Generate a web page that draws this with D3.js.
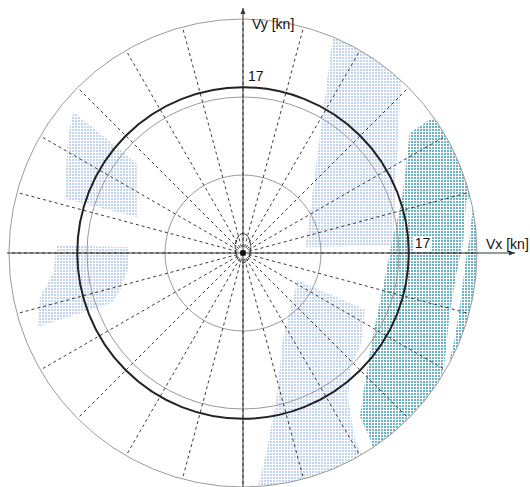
<!DOCTYPE html>
<html>
<head>
<meta charset="utf-8">
<script src="https://cdn.jsdelivr.net/npm/d3@7"></script>
<style>
  html, body { margin: 0; padding: 0; background: #fff; }
  svg { display: block; }
  text { font-family: "Liberation Sans", Arial, sans-serif; font-size: 14px; fill: #111; }
</style>
</head>
<body>
<svg id="chart" width="530" height="487"></svg>
<script>
// ---- data (knots) ----
const ringSpeeds = [8, 16, 24];          // grid rings
const ownSpeed = 17;                     // bold circle
const rayAngles = d3.range(0, 360, 15);  // radial dashed bearings (deg)
const speedLabels = ["17", "17"];
const axisLabels = ["Vx [kn]", "Vy [kn]"];

// light blue regions, vertices [Vx, Vy]
const regionUpperRight = [[9.5,24.4],[16.4,21.8],[16.2,17.7],[15.9,11.9],[15.4,0.8],[6.4,0.6]];
const regionLowerRight = [[5.6,-2.8],[12.5,-5.8],[12.1,-9.4],[11.0,-11.8],[10.8,-15.1],[11.5,-19.2],[13.0,-22.3],[1.2,-25.3],[2.5,-19.9],[3.5,-14.4],[4.1,-8.6]];
const regionUpperLeft = [[-17.4,14.5],[-10.9,9.2],[-10.9,3.7],[-18.3,5.6],[-18.1,9.5],[-17.9,12.3]];
const regionLowerLeft = [[-19.1,0.8],[-11.8,0.6],[-11.8,-1.7],[-12.6,-3.8],[-13.4,-5.1],[-21.1,-7.6],[-20.8,-4.5],[-19.5,-2.1]];
// teal regions
const tealMain = [[17.1,12.3],[19.0,13.6],[20.2,14.1],[25.3,10.6],[25.3,7.0],[22.9,5.4],[22.6,1.3],[21.9,-2.1],[21.2,-6.2],[20.7,-11.0],[20.3,-13.0],[19.2,-23.3],[13.8,-22.3],[13.0,-18.9],[12.0,-16.8],[12.5,-13.3],[13.3,-8.6],[14.3,-3.8],[15.3,1.3],[16.3,5.4]];
const tealSliver = [[23.6,4.9],[23.2,1.3],[22.8,-1.0],[22.3,-5.1],[21.7,-8.9],[21.2,-10.8],[24.3,-13.0],[26.4,0.3],[24.3,5.4]];
// own-ship ellipse (center and semi-axes, knots)
const ellipseCenter = [0, 0.5];
const ellipseRadii = [0.8, 1.5];

// ---- layout ----
const cx = 243, cy = 253, R = 234, maxSpeed = 24;
const svg = d3.select("#chart");
const x = d3.scaleLinear().domain([-maxSpeed, maxSpeed]).range([cx - R, cx + R]);
const y = d3.scaleLinear().domain([-maxSpeed, maxSpeed]).range([cy + R, cy - R]);
const r = d3.scaleLinear().domain([0, maxSpeed]).range([0, R]);

const defs = svg.append("defs");
function pattern(id, color) {
  const p = defs.append("pattern").attr("id", id)
    .attr("patternUnits", "userSpaceOnUse").attr("width", 3).attr("height", 3);
  p.append("rect").attr("width", 3).attr("height", 3).attr("fill", "#fff");
  p.append("rect").attr("width", 2).attr("height", 2).attr("fill", color)
    .attr("shape-rendering", "crispEdges");
}
pattern("pBlue", "#c3d4ee");
pattern("pTeal", "#6ab4c4");
defs.append("clipPath").attr("id", "clipOuter")
  .append("circle").attr("cx", x(0)).attr("cy", y(0)).attr("r", r(maxSpeed));

const line = d3.line().x(d => x(d[0])).y(d => y(d[1])).curve(d3.curveLinearClosed);
const regions = svg.append("g").attr("clip-path", "url(#clipOuter)");
[regionUpperRight, regionLowerRight, regionUpperLeft, regionLowerLeft].forEach(poly =>
  regions.append("path").attr("d", line(poly)).attr("fill", "url(#pBlue)"));
[tealMain, tealSliver].forEach(poly =>
  regions.append("path").attr("d", line(poly)).attr("fill", "url(#pTeal)"));

// rings
svg.append("g").selectAll("circle").data(ringSpeeds).join("circle")
  .attr("cx", x(0)).attr("cy", y(0)).attr("r", d => r(d))
  .attr("fill", "none").attr("stroke", "#9a9a9a").attr("stroke-width", 1);

// radial dashed rays
svg.append("g").selectAll("line").data(rayAngles).join("line")
  .attr("x1", x(0)).attr("y1", y(0))
  .attr("x2", d => x(maxSpeed * Math.cos(d * Math.PI / 180)))
  .attr("y2", d => y(maxSpeed * Math.sin(d * Math.PI / 180)))
  .attr("stroke", "#3a3a3a").attr("stroke-width", 1).attr("stroke-dasharray", "3,3");

// axes
const axisG = svg.append("g").attr("stroke", "#333").attr("stroke-width", 1);
axisG.append("line").attr("x1", 7).attr("y1", y(0)).attr("x2", 515).attr("y2", y(0));
axisG.append("line").attr("x1", x(0)).attr("y1", 487).attr("x2", x(0)).attr("y2", 8);
svg.append("path").attr("d", `M${515},${y(0)} l-6,-2.5 l0,5 Z`).attr("fill", "#333");
svg.append("path").attr("d", `M${x(0)},${8} l-2.5,6 l5,0 Z`).attr("fill", "#333");

// own speed circle
svg.append("circle").attr("cx", x(0)).attr("cy", y(0)).attr("r", r(ownSpeed))
  .attr("fill", "none").attr("stroke", "#222").attr("stroke-width", 2);

// ellipse and center
svg.append("ellipse").attr("cx", x(ellipseCenter[0])).attr("cy", y(ellipseCenter[1]))
  .attr("rx", r(ellipseRadii[0])).attr("ry", r(ellipseRadii[1]))
  .attr("fill", "none").attr("stroke", "#222").attr("stroke-width", 1).attr("stroke-dasharray", "4,1");
svg.append("rect").attr("x", x(0) - 2.5).attr("y", y(0) - 2.5).attr("width", 5).attr("height", 5).attr("fill", "#111");

// labels
svg.append("rect").attr("x", x(ownSpeed) + 4).attr("y", y(0) - 16).attr("width", 18).attr("height", 15).attr("fill", "#fff");
svg.append("text").attr("x", x(ownSpeed) + 6).attr("y", y(0) - 5).text(speedLabels[0]);
svg.append("text").attr("x", x(0) + 5).attr("y", y(ownSpeed) - 6).text(speedLabels[1]);
svg.append("text").attr("x", 486).attr("y", y(0) - 4).text(axisLabels[0]);
svg.append("text").attr("x", x(0) + 9).attr("y", 29).text(axisLabels[1]);
</script>
</body>
</html>
